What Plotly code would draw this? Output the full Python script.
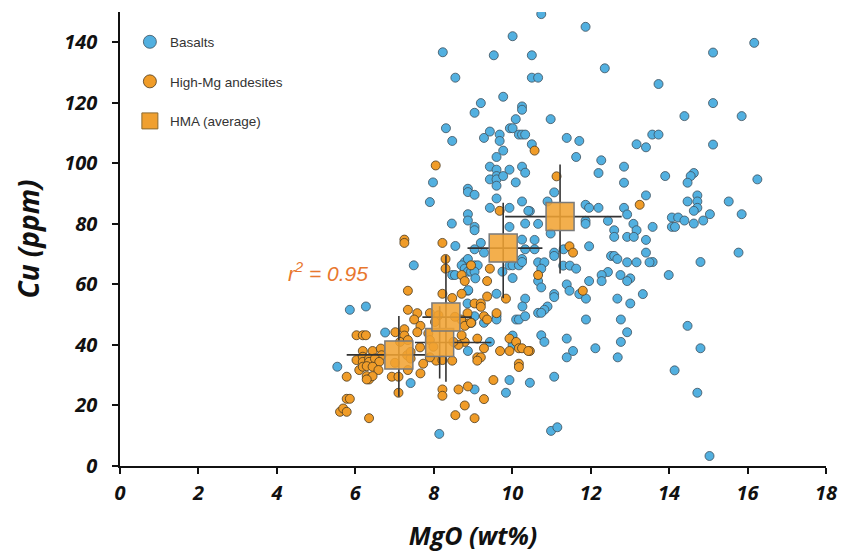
import plotly.graph_objects as go

# ---------------- data ----------------
basalt_mgo = [10.74, 11.87, 10.01, 8.23, 9.53, 10.50, 12.36, 8.55, 10.50, 10.66, 13.73, 9.77, 9.20, 9.04, 10.25, 10.25,
              10.09, 10.98, 8.31, 9.94, 10.01, 8.47, 9.28, 9.43, 9.68, 9.68, 10.17, 10.25, 10.33, 11.39, 11.71, 10.50,
              9.77, 9.60, 11.63, 12.27, 13.17, 13.41, 13.57, 13.73,
              16.17, 15.12, 15.12, 14.39, 15.85, 15.12, 13.90, 14.63, 14.55, 14.47, 16.25, 14.72, 14.47, 14.72, 15.52,
              14.72, 14.63, 15.04, 15.85, 14.07, 14.23, 14.39, 14.87, 14.63, 14.07, 14.15, 13.58, 15.77, 13.58, 14.80, 13.99,
              14.47, 14.80, 14.14, 14.72, 15.03,
              12.85, 12.20, 12.85, 11.07, 13.41, 10.90, 11.87, 11.96, 12.20, 12.85, 12.93, 10.45, 10.66, 11.87, 11.87,
              12.44, 13.09, 13.17, 10.98, 12.60, 12.60, 12.93, 13.10, 10.57, 13.41, 10.57, 11.96, 11.07, 11.07, 11.31,
              13.41, 12.52, 12.60, 12.68, 10.66, 10.82, 10.74, 11.30, 11.47, 11.63, 12.93, 13.17, 13.50, 12.44, 12.28,
              12.76, 13.01, 10.66, 11.96, 12.28, 12.93, 10.74, 11.39, 11.46, 11.71, 11.07, 11.07, 13.33, 11.88, 12.68,
              13.01, 10.90, 10.82, 10.66, 10.74, 11.88, 12.77, 12.93, 10.74, 10.82, 11.39, 12.77, 11.55, 12.12, 11.39,
              12.69, 10.45, 11.07, 10.99, 11.15,
              9.43, 9.60, 9.93, 10.25, 10.33, 9.60, 9.43, 9.60, 9.77, 9.60, 10.09, 7.98, 8.87, 8.87, 9.04, 7.90, 9.60,
              10.25, 9.43, 9.93, 10.41, 8.87, 8.87, 8.46, 9.04, 9.04, 9.93, 10.33, 9.20, 8.55, 10.25, 9.04, 9.28, 10.33,
              10.25, 7.49, 8.79, 8.87, 9.04, 9.12, 8.71, 8.79, 8.47, 8.54, 8.87, 8.95, 9.04, 9.75, 9.93, 10.01, 10.17,
              10.25, 10.01, 8.87, 9.60, 10.33, 9.06,
              8.86, 9.04, 9.28, 9.60, 9.60, 10.26, 10.10, 10.17, 10.33, 10.01, 10.01, 9.43, 8.87, 7.41, 9.04, 9.93,
              9.84, 8.14, 8.88, 8.96,
              5.86, 6.27, 6.76, 5.54]
basalt_cu = [149.3, 145.1, 142.0, 136.7, 135.7, 135.7, 131.4, 128.3, 128.3, 128.3, 126.2, 122.0, 119.9, 116.7, 118.8, 117.7,
             114.6, 114.6, 111.6, 111.6, 111.6, 107.4, 108.4, 110.5, 109.5, 107.4, 109.5, 109.5, 109.5, 108.4, 107.4, 106.3,
             104.2, 102.1, 102.1, 101.0, 106.3, 105.3, 109.5, 109.5,
             139.8, 136.6, 119.9, 115.6, 115.6, 106.2, 95.8, 96.8, 95.8, 93.6, 94.7, 89.4, 87.4, 87.4, 87.4,
             85.3, 84.3, 83.2, 83.2, 82.1, 82.1, 81.1, 81.1, 80.1, 79.0, 79.0, 79.0, 70.5, 67.4, 67.4, 63.1,
             46.3, 38.9, 31.6, 24.2, 3.3,
             98.9, 96.8, 93.6, 90.4, 89.4, 87.4, 86.3, 85.3, 85.3, 85.3, 83.1, 84.2, 80.0, 81.0, 80.0,
             81.0, 80.0, 77.9, 76.8, 77.9, 75.7, 75.7, 75.7, 74.7, 74.7, 71.6, 72.6, 70.5, 69.4, 71.6,
             70.5, 69.4, 69.4, 68.4, 67.3, 67.3, 65.2, 66.2, 66.2, 65.2, 67.3, 67.3, 67.3, 64.1, 63.1,
             63.1, 62.0, 61.1, 61.1, 61.1, 61.1, 59.0, 60.0, 57.9, 56.8, 56.8, 55.8, 56.8, 55.3, 55.3,
             53.7, 52.7, 51.6, 50.6, 50.6, 48.4, 48.4, 44.2, 43.2, 41.0, 42.1, 41.0, 38.0, 38.9, 35.9,
             35.9, 27.5, 29.5, 11.6, 12.8,
             98.9, 97.9, 97.9, 98.9, 96.9, 95.8, 94.7, 94.7, 95.8, 92.6, 93.7, 93.7, 91.6, 90.5, 89.6, 87.2, 88.4,
             87.4, 85.3, 85.3, 84.3, 83.2, 81.1, 80.1, 79.0, 77.9, 79.0, 80.1, 73.7, 72.7, 74.8, 71.6, 70.5, 71.6,
             68.4, 66.3, 67.4, 68.4, 66.3, 66.3, 66.3, 65.2, 63.1, 63.1, 64.2, 64.2, 64.2, 64.2, 66.3, 66.3, 66.3,
             67.4, 62.1, 57.9, 56.9, 55.3, 62.0,
             53.7, 49.5, 47.3, 49.5, 48.4, 52.7, 48.4, 48.4, 49.5, 43.1, 40.0, 41.0, 38.0, 27.4, 25.3, 28.4,
             24.2, 10.6, 58.1, 47.3,
             51.6, 52.7, 44.1, 32.8]

hma_mgo = [8.05, 10.57, 11.13, 13.25, 9.68, 7.25, 7.25, 8.22, 8.30, 8.30, 8.95, 8.71, 9.43, 8.79, 9.36, 7.34, 8.22,
           8.71, 8.47, 9.36, 9.84, 10.66, 11.46, 11.55, 11.80, 10.45,
           7.34, 7.58, 7.50, 7.66, 7.58, 7.25, 7.25, 7.90, 9.04, 9.20, 9.20, 8.86, 8.86, 8.70, 8.79, 8.95, 9.28,
           9.36, 9.60, 9.93, 10.10, 10.17, 10.25, 10.41, 9.93, 9.69, 10.17, 10.17, 9.28, 9.11, 8.79, 8.63, 9.11,
           9.20, 9.11, 8.47, 8.06, 7.90, 7.73, 7.66, 7.34, 8.22, 8.22, 8.63, 8.87, 9.52, 9.28, 8.79, 8.55, 9.04,
           7.02, 6.03, 6.19, 6.27, 7.14, 6.19, 6.44, 6.65, 6.67, 6.03, 6.19, 6.19, 6.35, 6.35, 6.50, 6.61, 6.10,
           6.19, 6.29, 6.44, 6.59, 6.29, 6.35, 6.44, 6.29, 6.93, 7.10, 7.01, 5.78, 7.10, 5.78, 5.86, 5.61, 5.69,
           5.78, 6.35, 7.32, 7.41, 7.41, 7.65, 7.34,
           8.12, 8.03, 7.86, 7.90, 7.99, 8.22, 8.71, 8.54, 8.50]
hma_cu = [99.3, 104.2, 95.7, 86.3, 84.3, 74.8, 73.7, 73.7, 68.4, 65.2, 66.3, 63.1, 65.2, 61.1, 61.1, 57.9, 56.9,
          56.9, 55.5, 56.0, 55.3, 63.1, 72.6, 70.5, 57.9, 38.0,
          51.6, 50.5, 48.4, 46.3, 44.2, 45.2, 43.1, 50.5, 53.7, 53.7, 52.6, 50.5, 47.1, 48.4, 46.3, 47.3, 49.5,
          48.4, 50.5, 42.1, 41.0, 38.9, 38.9, 38.0, 38.0, 38.0, 33.8, 32.7, 38.9, 42.1, 41.0, 40.0, 35.9,
          35.9, 34.8, 34.8, 34.8, 35.9, 33.8, 30.6, 31.7, 25.3, 23.2, 25.3, 26.3, 28.4, 22.1, 20.0, 16.8, 15.8,
          44.2, 43.2, 43.2, 43.2, 41.0, 38.0, 38.0, 38.8, 36.6, 35.0, 36.1, 34.4, 35.5, 34.4, 35.5, 34.4, 31.7,
          32.8, 33.0, 32.8, 31.7, 29.7, 28.6, 29.7, 28.6, 29.5, 29.5, 34.1, 29.5, 24.2, 22.2, 22.2, 17.9, 19.0,
          17.9, 15.8, 36.6, 37.7, 35.5, 39.2, 41.6,
          49.8, 47.6, 43.8, 41.6, 39.4, 35.0, 43.2, 49.3, 41.0]

avg_mgo = [7.11, 8.15, 8.31, 9.77, 11.22]
avg_cu = [36.7, 40.8, 49.2, 72.0, 82.4]
avg_mgo_plus = [0.75, 1.32, 0.66, 1.00, 1.57]
avg_mgo_minus = [1.33, 0.63, 0.60, 0.91, 1.40]
avg_cu_plus = [12.9, 12.0, 20.4, 15.0, 17.2]
avg_cu_minus = [13.8, 11.9, 21.4, 16.6, 18.8]

x_ticks = [0, 2, 4, 6, 8, 10, 12, 14, 16, 18]
y_ticks = [0, 20, 40, 60, 80, 100, 120, 140]

BLUE = "#52B0E0"
ORANGE = "#F09C28"
SQ = "rgba(241,163,50,0.87)"

fig = go.Figure()

fig.add_trace(go.Scatter(
    x=basalt_mgo, y=basalt_cu, mode="markers", showlegend=False,
    marker=dict(size=9, color=BLUE, line=dict(color="#3d4f5c", width=0.8))))
fig.add_trace(go.Scatter(
    x=hma_mgo, y=hma_cu, mode="markers", showlegend=False,
    marker=dict(size=9, color=ORANGE, line=dict(color="#4a3a20", width=0.8))))
fig.add_trace(go.Scatter(
    x=avg_mgo, y=avg_cu, mode="markers", showlegend=False,
    marker=dict(size=28, symbol="square", color=SQ, line=dict(color="#7a7a7a", width=1.5)),
    error_x=dict(type="data", symmetric=False, array=avg_mgo_plus, arrayminus=avg_mgo_minus,
                 color="#333333", thickness=1.6, width=0),
    error_y=dict(type="data", symmetric=False, array=avg_cu_plus, arrayminus=avg_cu_minus,
                 color="#333333", thickness=1.6, width=0)))

# legend-only traces
fig.add_trace(go.Scatter(x=[None], y=[None], mode="markers", name="Basalts", legendgroup="a",
                         marker=dict(size=13, color=BLUE, line=dict(color="#3d4f5c", width=0.8))))
fig.add_trace(go.Scatter(x=[None], y=[None], mode="markers", name="High-Mg andesites", legendgroup="b",
                         marker=dict(size=13, color=ORANGE, line=dict(color="#4a3a20", width=0.8))))
fig.add_trace(go.Scatter(x=[None], y=[None], mode="markers", name="HMA (average)", legendgroup="c",
                         marker=dict(size=16, symbol="square", color="#F0A030", line=dict(color="#8a6a30", width=1))))

fig.add_annotation(x=5.3, y=64, xref="x", yref="y", showarrow=False,
                   text="r<sup>2</sup> = 0.95",
                   font=dict(family="Liberation Sans, Arial", size=21, color="#E8772E", style="italic"))

tickfont = dict(family="Open Sans, Lato, sans-serif", size=20, color="#111111", weight="bold", style="italic")

fig.update_layout(
    width=850, height=560,
    margin=dict(l=112, r=32, t=4, b=102),
    paper_bgcolor="white", plot_bgcolor="white",
    legend=dict(x=0.014, y=0.968, xanchor="left", yanchor="top", tracegroupgap=19,
                font=dict(family="Liberation Sans, Arial", size=13.5, color="#333333"),
                bgcolor="rgba(0,0,0,0)", itemsizing="trace"),
    xaxis=dict(range=[0, 18], tickvals=x_ticks, showline=True, linecolor="#111111", linewidth=1.5,
               ticks="outside", ticklen=6, tickwidth=1.5, tickcolor="#111111", showgrid=False,
               zeroline=False, tickfont=tickfont, automargin=False, ticklabelstandoff=2,
               title=dict(text="MgO (wt%)", standoff=23,
                          font=dict(family="Open Sans, Lato, sans-serif", size=25, color="#111111",
                                    weight="bold", style="italic"))),
    yaxis=dict(range=[0, 150], tickvals=y_ticks, showline=True, linecolor="#111111", linewidth=1.5,
               ticks="outside", ticklen=6, tickwidth=1.5, tickcolor="#111111", showgrid=False,
               zeroline=False, tickfont=tickfont, ticklabelstandoff=11, automargin=False,
               title=dict(text="Cu (ppm)", standoff=16,
                          font=dict(family="Open Sans, Lato, sans-serif", size=28, color="#111111",
                                    weight="bold", style="italic"))),
)

fig.write_html("out.html")
